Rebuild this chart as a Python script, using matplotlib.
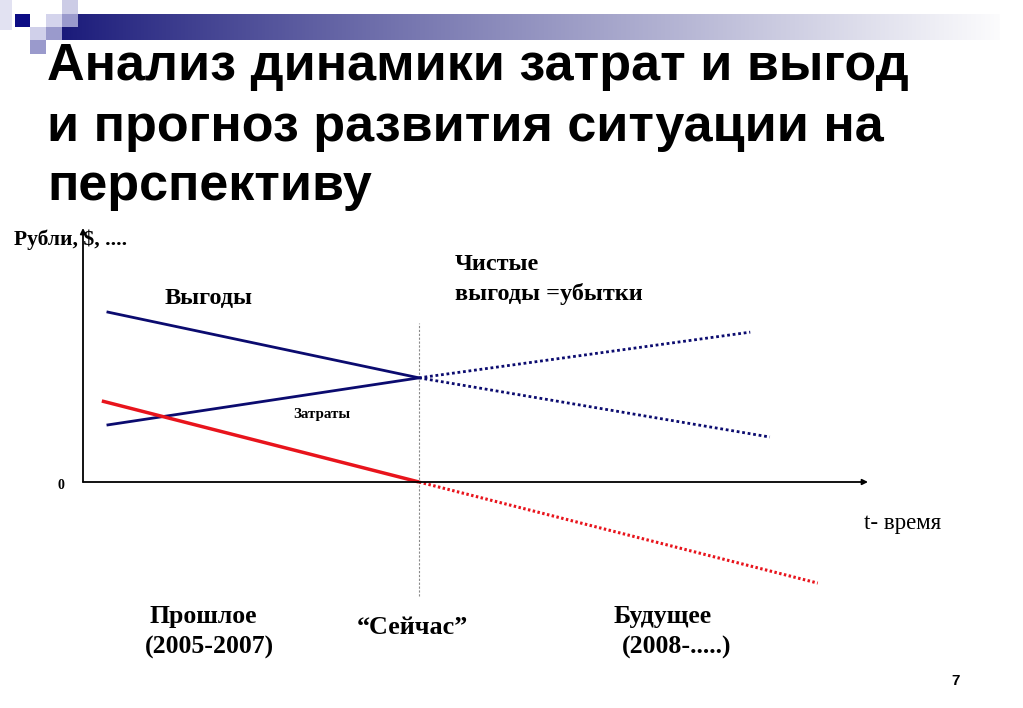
import matplotlib
matplotlib.use("Agg")
import matplotlib.pyplot as plt
import numpy as np
from matplotlib.patches import Rectangle

# ---- data (arbitrary units: time t, money value) ----
t_past = [0.3, 4.28]
benefit_past = [6.7, 4.1]
t_benefit_future = [4.28, 8.75]
benefit_future = [4.1, 1.77]

cost_past = [2.24, 4.1]
t_cost_future = [4.28, 8.5]
cost_future = [4.1, 5.9]

t_net_past = [0.24, 4.28]
net_past = [3.19, 0.0]
t_net_future = [4.28, 9.36]
net_future = [0.0, -3.98]

t_now = 4.28
now_span = [-4.49, 6.26]
axis_len = 10.0

W, H = 1023, 708
fig = plt.figure(figsize=(W / 100, H / 100), dpi=100)
fig.patch.set_facecolor("white")

def fx(x):
    return x / W

def fy(y):
    return 1 - y / H

# ---- decoration: gradient bar & squares ----
bar_ax = fig.add_axes([fx(62), fy(40), (1000 - 62) / W, 26 / H])
g = np.linspace(0, 1, 512) ** 0.9
c0 = np.array([26, 26, 122]) / 255
c1 = np.array([252, 252, 253]) / 255
grad = (c0[None, :] * (1 - g[:, None]) + c1[None, :] * g[:, None])[None, :, :]
bar_ax.imshow(grad, aspect="auto", extent=[0, 1, 0, 1])
bar_ax.axis("off")

deco = fig.add_axes([0, 0, 1, 1], zorder=2)
deco.set_xlim(0, W)
deco.set_ylim(H, 0)
deco.axis("off")
squares = [
    (0, 0, 12, 30, "#e2e2f2"),
    (15, 14, 15, 13, "#0c0c84"),
    (46, 14, 16, 13, "#d4d4ec"),
    (62, 0, 16, 14, "#ccccE6"),
    (62, 14, 16, 13, "#9a9acc"),
    (30, 27, 16, 13, "#d0d0ea"),
    (46, 27, 16, 13, "#9a9acc"),
    (30, 40, 16, 14, "#9a9acc"),
]
for x, y, w, h, c in squares:
    deco.add_patch(Rectangle((x, y), w, h, facecolor=c, edgecolor="none"))

# ---- title ----
title_lines = ["Анализ динамики затрат и выгод",
               "и прогноз развития ситуации на",
               "перспективу"]
baselines = [80, 141, 200]
for line, b in zip(title_lines, baselines):
    fig.text(fx(47), fy(b), line, fontsize=37.5, fontweight="bold",
             family="Liberation Sans", va="baseline", ha="left", color="black",
             zorder=5)

# ---- chart axes (data coordinates map onto the slide) ----
ax = fig.add_axes([0, 0, 1, 1], zorder=3)
sx, sy = 78.5, 25.4
ax.set_xlim(-83 / sx, (W - 83) / sx)
ax.set_ylim((482 - H) / sy, 482 / sy)
ax.axis("off")

ax.annotate("", xy=(0, axis_len), xytext=(0, 0),
            arrowprops=dict(arrowstyle="-|>", lw=1.3, color="black",
                            mutation_scale=8, shrinkA=0, shrinkB=0))
ax.annotate("", xy=(axis_len, 0), xytext=(0, 0),
            arrowprops=dict(arrowstyle="-|>", lw=1.3, color="black",
                            mutation_scale=8, shrinkA=0, shrinkB=0))

ax.plot([t_now, t_now], now_span, color="#8a8a8a", lw=0.8,
        linestyle=(0, (2, 1.5)))

navy = "#0b0b6f"
red = "#e8141c"
ax.plot(t_past, benefit_past, color=navy, lw=2.0, solid_capstyle="butt")
ax.plot(t_benefit_future, benefit_future, color=navy, lw=2.0,
        linestyle=(0, (1, 1)), dash_capstyle="butt")
ax.plot(t_past, cost_past, color=navy, lw=2.0, solid_capstyle="butt")
ax.plot(t_cost_future, cost_future, color=navy, lw=2.0,
        linestyle=(0, (1, 1)), dash_capstyle="butt")
ax.plot(t_net_past, net_past, color=red, lw=2.5, solid_capstyle="butt")
ax.plot(t_net_future, net_future, color=red, lw=2.2,
        linestyle=(0, (0.8, 0.8)), dash_capstyle="butt")

# ---- labels ----
serif = "Liberation Serif"
def lab(x, y, s, size, bold=True, fam=serif):
    fig.text(fx(x), fy(y), s, fontsize=size,
             fontweight="bold" if bold else "normal",
             family=fam, va="baseline", zorder=5)

lab(14, 245, "Рубли, $, ....", 15.5)
lab(165, 304, "Выгоды", 17.5)
lab(455, 270, "Чистые", 17.5)
lab(455, 300, "выгоды =убытки", 17.5)
lab(293, 418, "Затраты", 10.8)
lab(58, 489, "0", 10)
lab(864, 529, "t- время", 16.5, bold=False)
lab(150, 623, "Прошлое", 18.5)
lab(145, 654, "(2005-2007)", 18.5)
lab(357, 634, "“Сейчас”", 18.8)
lab(614, 623, "Будущее", 18.5)
lab(622, 654, "(2008-.....)", 18.5)
lab(951, 685, "7", 11, fam="Liberation Sans")

fig.savefig("out.png", dpi=100, facecolor="white")
